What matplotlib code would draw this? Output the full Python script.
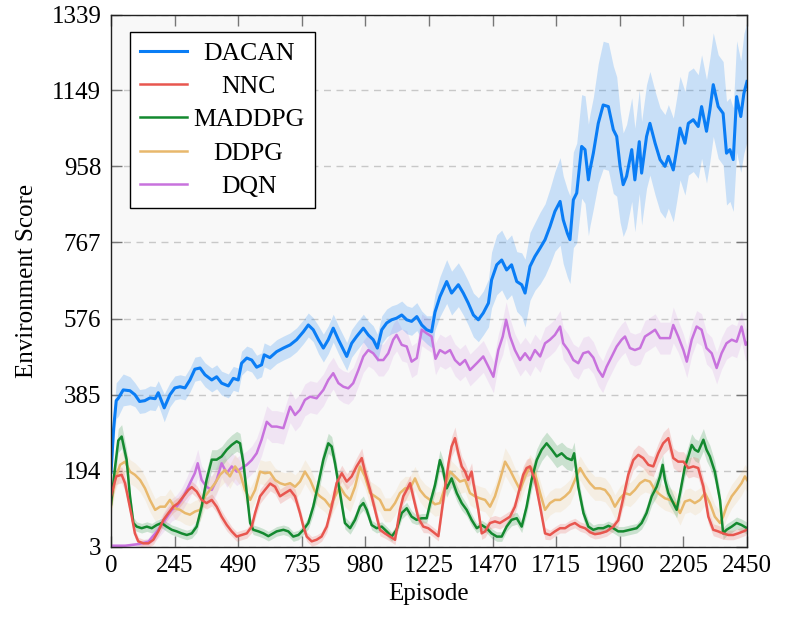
import numpy as np
import matplotlib
matplotlib.use("Agg")
import matplotlib.pyplot as plt

plt.rcParams['font.family'] = ['Liberation Serif', 'DejaVu Serif']

# (episode, mean score, half width of the shaded band)
dacan = [(0,190,20),(10,300,35),(20,370,45),(28,376,45),(47,397,40),(73,395,35),(92,385,30),(110,368,30),(130,370,30),(150,377,30),(170,375,30),(182,390,30),(205,352,35),(227,385,30),(246,402,30),(266,405,30),(285,402,30),(304,422,30),(323,449,30),(343,452,30),(362,435,30),(388,422,30),(407,430,30),(426,414,30),(452,407,30),(471,426,30),(490,422,30),(503,464,30),(523,477,30),(542,472,30),(561,454,30),(580,460,30),(590,485,30),(612,478,30),(638,493,30),(664,502,30),(690,510,30),(715,523,30),(741,543,30),(760,560,30),(779,548,30),(799,523,35),(818,502,35),(837,523,35),(856,552,35),(876,523,35),(892,502,35),(908,481,35),(927,514,35),(946,531,35),(972,552,35),(991,535,35),(1010,523,35),(1026,502,35),(1043,548,35),(1062,565,35),(1081,573,35),(1100,577,35),(1120,585,35),(1139,573,35),(1158,569,35),(1178,581,35),(1197,560,35),(1216,548,35),(1235,543,40),(1248,592,45),(1267,631,50),(1293,669,55),(1312,640,55),(1338,661,55),(1357,640,55),(1376,615,55),(1396,585,55),(1415,573,55),(1434,590,55),(1454,615,60),(1466,673,70),(1486,711,75),(1505,723,75),(1524,698,75),(1543,711,75),(1563,669,75),(1582,661,80),(1595,640,85),(1614,707,85),(1633,732,85),(1653,753,90),(1672,774,90),(1691,807,95),(1710,845,100),(1730,870,110),(1742,824,110),(1758,790,110),(1768,774,110),(1781,874,120),(1794,891,125),(1813,1008,130),(1826,1000,135),(1839,924,140),(1845,949,140),(1858,991,140),(1877,1066,150),(1896,1112,160),(1916,1108,160),(1935,1050,160),(1948,1033,150),(1961,958,140),(1973,912,130),(1986,933,130),(2006,1000,130),(2018,924,130),(2035,1020,130),(2044,941,130),(2063,1033,130),(2076,1066,130),(2096,1016,130),(2115,975,130),(2134,958,130),(2147,983,130),(2166,949,130),(2179,1000,130),(2192,1054,130),(2211,1016,130),(2224,1066,130),(2243,1075,130),(2262,1058,130),(2275,1108,130),(2294,1046,130),(2307,1100,130),(2320,1163,130),(2339,1108,130),(2358,1091,130),(2371,991,130),(2384,1000,130),(2397,975,130),(2410,1133,140),(2426,1083,140),(2438,1141,150),(2450,1171,150)]

nnc = [(0,130,15),(20,180,20),(41,184,20),(54,163,20),(67,121,18),(80,79,15),(92,37,12),(105,17,10),(125,12,10),(144,12,10),(163,21,12),(182,42,12),(202,71,15),(221,88,15),(240,104,15),(259,113,15),(279,130,15),(298,146,15),(311,153,15),(330,142,15),(349,121,15),(368,113,15),(388,121,15),(407,104,15),(426,79,15),(446,58,15),(465,42,12),(484,29,12),(503,33,12),(523,37,12),(542,54,15),(555,88,15),(574,130,18),(593,146,18),(613,162,18),(632,154,18),(651,130,18),(670,138,18),(690,146,18),(709,130,18),(728,88,15),(741,54,15),(754,29,12),(773,17,12),(792,21,12),(811,29,12),(831,54,15),(850,104,18),(869,163,20),(889,188,20),(908,167,20),(927,180,20),(946,205,22),(966,226,25),(978,192,22),(998,146,20),(1017,96,18),(1036,46,15),(1055,37,12),(1075,29,12),(1094,21,12),(1113,96,18),(1126,130,20),(1139,146,20),(1152,163,20),(1167,121,18),(1184,75,15),(1203,54,15),(1222,50,12),(1242,40,12),(1261,30,12),(1280,121,18),(1300,213,25),(1312,255,25),(1325,276,28),(1338,238,25),(1351,205,25),(1364,192,22),(1376,171,22),(1389,192,22),(1396,163,22),(1415,96,18),(1428,37,15),(1441,42,15),(1460,63,15),(1479,67,15),(1498,63,15),(1518,71,15),(1537,79,15),(1556,104,18),(1576,154,22),(1588,184,22),(1601,201,22),(1614,205,22),(1633,171,22),(1653,104,18),(1672,37,15),(1691,33,12),(1710,42,12),(1730,50,12),(1749,50,12),(1768,58,12),(1787,63,12),(1807,54,12),(1826,50,12),(1845,40,12),(1864,35,12),(1884,37,12),(1909,42,12),(1935,54,12),(1954,70,15),(1973,125,20),(1993,185,25),(2012,221,25),(2031,234,25),(2050,226,25),(2070,209,25),(2089,205,25),(2108,238,25),(2127,263,28),(2147,276,28),(2166,226,25),(2185,217,25),(2205,217,25),(2224,201,25),(2243,205,25),(2262,201,25),(2282,154,22),(2301,79,18),(2320,46,15),(2339,42,15),(2358,37,15),(2378,33,12),(2397,33,12),(2416,37,12),(2436,42,12),(2450,46,12)]

maddpg = [(0,110,15),(15,200,25),(28,270,30),(41,280,30),(60,222,25),(73,130,20),(86,63,15),(99,54,12),(118,50,12),(138,54,12),(157,50,12),(176,58,12),(195,63,12),(214,54,12),(234,46,12),(253,42,12),(272,37,12),(292,33,12),(311,37,12),(330,54,15),(349,104,20),(368,171,25),(388,222,25),(407,222,25),(426,230,25),(446,247,25),(465,259,25),(484,268,25),(497,263,25),(510,213,25),(523,138,20),(536,63,15),(548,46,12),(568,42,12),(587,37,12),(606,30,12),(625,37,12),(638,42,12),(664,46,12),(683,42,12),(702,29,12),(722,33,12),(741,46,12),(760,63,15),(779,104,20),(799,163,25),(818,222,25),(837,263,25),(850,255,25),(863,213,25),(882,138,20),(901,63,15),(921,50,15),(940,71,15),(959,104,18),(972,113,18),(985,96,15),(1004,58,12),(1023,50,12),(1043,54,12),(1062,42,12),(1081,29,12),(1100,46,12),(1120,88,15),(1139,100,15),(1158,79,15),(1177,71,12),(1197,75,12),(1216,75,12),(1229,112,18),(1248,158,22),(1267,221,25),(1278,200,25),(1293,150,22),(1312,175,22),(1332,138,20),(1351,113,18),(1370,96,15),(1389,71,15),(1409,50,12),(1428,58,12),(1447,50,12),(1466,37,12),(1486,29,12),(1505,29,12),(1524,54,12),(1543,71,15),(1563,75,15),(1582,54,15),(1601,104,20),(1620,171,25),(1640,221,28),(1659,247,28),(1678,263,28),(1698,247,28),(1717,230,28),(1736,238,28),(1755,226,28),(1775,221,28),(1784,238,28),(1800,154,25),(1820,88,18),(1839,54,15),(1858,46,12),(1877,50,12),(1896,50,12),(1916,56,12),(1935,50,12),(1954,42,12),(1973,42,12),(1999,46,12),(2025,50,12),(2044,63,15),(2063,88,18),(2083,130,22),(2102,154,25),(2115,180,25),(2125,209,25),(2134,171,25),(2147,138,25),(2166,113,22),(2179,96,20),(2192,138,22),(2211,205,25),(2224,230,28),(2237,259,28),(2249,247,28),(2262,242,28),(2282,272,28),(2294,247,28),(2307,230,28),(2326,192,25),(2346,121,22),(2358,37,15),(2371,46,15),(2391,54,15),(2410,63,15),(2429,58,15),(2450,50,15)]

ddpg = [(0,104,25),(15,171,30),(35,209,30),(54,217,30),(73,192,30),(92,184,30),(112,171,30),(131,150,30),(150,121,30),(170,96,28),(189,104,28),(208,104,28),(227,121,28),(247,100,28),(266,96,28),(285,88,28),(304,84,28),(324,92,28),(343,96,28),(362,130,30),(381,146,30),(401,163,30),(420,184,30),(439,196,30),(458,180,30),(478,205,30),(497,188,30),(516,146,30),(536,121,30),(555,146,30),(574,192,30),(593,188,30),(612,190,30),(632,171,30),(651,163,30),(670,159,30),(690,163,30),(709,154,30),(728,167,30),(747,192,30),(767,171,30),(786,142,30),(805,130,30),(824,121,30),(844,104,30),(863,130,30),(882,154,30),(901,134,30),(921,121,30),(940,154,30),(959,205,30),(978,180,30),(998,138,30),(1017,130,30),(1036,121,30),(1055,96,30),(1075,96,30),(1094,113,30),(1113,138,30),(1133,150,30),(1152,150,30),(1171,175,30),(1190,146,30),(1210,130,30),(1229,121,30),(1248,110,30),(1267,113,30),(1287,154,30),(1306,192,30),(1325,180,30),(1344,167,30),(1364,171,30),(1383,138,30),(1402,130,30),(1421,125,30),(1441,121,30),(1460,104,30),(1479,130,30),(1498,171,30),(1518,217,35),(1537,196,35),(1556,171,30),(1576,146,30),(1595,180,30),(1614,205,30),(1633,188,30),(1653,138,30),(1672,96,30),(1691,113,30),(1710,121,30),(1730,121,30),(1749,130,30),(1768,142,30),(1787,171,30),(1807,201,30),(1826,180,30),(1845,163,30),(1864,150,30),(1884,150,30),(1903,146,30),(1922,130,30),(1941,104,30),(1961,125,30),(1980,138,30),(1999,134,30),(2018,146,30),(2038,163,30),(2057,171,30),(2076,167,30),(2095,146,30),(2115,134,30),(2134,125,30),(2153,121,30),(2172,113,30),(2192,88,30),(2211,117,30),(2230,121,30),(2249,113,30),(2269,121,30),(2288,138,30),(2307,113,30),(2326,79,30),(2346,63,30),(2358,79,30),(2371,104,30),(2391,130,30),(2410,146,30),(2429,163,30),(2442,180,30),(2450,171,30)]

dqn = [(0,6,4),(54,6,4),(105,10,6),(144,16,10),(182,46,20),(208,71,25),(234,96,28),(253,104,30),(272,121,30),(292,146,32),(304,163,35),(323,188,35),(334,213,35),(349,171,35),(368,154,35),(388,146,35),(407,171,35),(426,213,35),(446,188,35),(465,205,35),(484,192,35),(503,201,35),(523,209,35),(542,221,35),(561,238,38),(580,272,40),(600,317,40),(619,305,40),(638,305,40),(664,301,40),(690,355,40),(709,334,40),(728,347,40),(747,372,40),(767,380,40),(792,376,40),(818,397,40),(837,422,40),(856,439,40),(876,414,40),(895,405,40),(914,401,40),(933,414,40),(953,447,40),(972,481,40),(991,497,40),(1010,489,40),(1030,472,40),(1049,472,40),(1068,489,40),(1087,523,40),(1100,535,40),(1120,510,40),(1139,506,40),(1158,468,40),(1178,477,40),(1197,548,40),(1216,539,40),(1235,531,40),(1250,475,40),(1267,497,40),(1287,489,40),(1306,497,40),(1325,472,40),(1344,460,40),(1364,472,40),(1383,447,40),(1409,464,40),(1434,481,40),(1454,455,40),(1473,430,40),(1492,497,40),(1509,531,45),(1522,573,45),(1537,531,45),(1556,497,40),(1576,472,40),(1595,489,40),(1614,472,40),(1633,497,40),(1653,481,40),(1672,514,40),(1691,523,40),(1710,535,40),(1730,556,40),(1742,514,40),(1761,497,40),(1781,472,40),(1800,464,40),(1819,489,40),(1839,493,40),(1858,478,40),(1877,447,40),(1894,430,40),(1909,455,40),(1929,481,40),(1948,506,40),(1967,523,40),(1980,531,40),(1999,502,40),(2018,497,40),(2038,502,40),(2057,531,40),(2076,539,40),(2096,548,40),(2115,527,40),(2134,527,40),(2153,527,40),(2166,560,45),(2185,531,40),(2205,497,40),(2218,468,40),(2237,523,40),(2256,556,40),(2275,548,40),(2294,502,40),(2314,489,40),(2333,452,40),(2352,489,40),(2371,514,40),(2391,523,40),(2410,518,40),(2429,556,40),(2445,510,40),(2450,515,40)]

labels = ['DACAN', 'NNC', 'MADDPG', 'DDPG', 'DQN']
colors = ['#0a7df5', '#e8564f', '#13892f', '#e8b86c', '#c872dd']
band_alpha = [0.2, 0.2, 0.2, 0.15, 0.15]
x_ticks = [0, 245, 490, 735, 980, 1225, 1470, 1715, 1960, 2205, 2450]
y_ticks = [3, 194, 385, 576, 767, 958, 1149, 1339]

fig = plt.figure(figsize=(7.93, 6.18), dpi=100)
ax = fig.add_axes([0.140, 0.115, 0.802, 0.8615])
ax.set_facecolor('#f8f8f8')

series = [dacan, nnc, maddpg, ddpg, dqn]
handles = []
for i in [4, 3, 2, 1, 0]:
    ep, mean, sd = np.array(series[i], dtype=float).T
    ax.fill_between(ep, mean - sd, mean + sd, color=colors[i],
                    alpha=band_alpha[i], lw=0, zorder=2)
for i in [4, 3, 2, 1, 0]:
    ep, mean, sd = np.array(series[i], dtype=float).T
    lw = 2.2 if i == 0 else 1.8
    ln, = ax.plot(ep, mean, color=colors[i], lw=lw, label=labels[i], zorder=3)
    handles.append(ln)
handles = handles[::-1]

ax.set_xlim(0, 2450)
ax.set_ylim(3, 1339)
ax.set_xticks(x_ticks)
ax.set_yticks(y_ticks)
ax.tick_params(direction='in', length=8, width=1, color='#777777',
               labelsize=18, top=True, right=True)
ax.tick_params(axis='x', pad=6)
ax.tick_params(axis='y', pad=7)
ax.yaxis.grid(True, linestyle=(0, (5, 4)), color='#c8c8c8', lw=1, zorder=1)
ax.set_axisbelow(True)
for s in ax.spines.values():
    s.set_color('#222222')
    s.set_linewidth(1)
    s.set_zorder(5)

ax.set_xlabel('Episode', fontsize=18, labelpad=4)
ax.set_ylabel('Environment Score', fontsize=18, labelpad=10)

leg = ax.legend(handles=handles, labels=labels, loc='upper left',
                bbox_to_anchor=(0.03, 0.968), borderaxespad=0, fontsize=18.5,
                fancybox=False, framealpha=1, edgecolor='black',
                handlelength=1.8, handletextpad=0.25, labelspacing=0.4,
                borderpad=0.4)
leg.get_frame().set_linewidth(1)
leg.set_zorder(10)

# centre the legend labels in their column
fig.canvas.draw()
r = fig.canvas.get_renderer()
texts = leg.get_texts()
widths = [t.get_window_extent(r).width for t in texts]
wmax = max(widths)
for t, w in zip(texts, widths):
    t.set_position(((wmax - w) / 2, 0))

fig.savefig('out.png', dpi=100)
